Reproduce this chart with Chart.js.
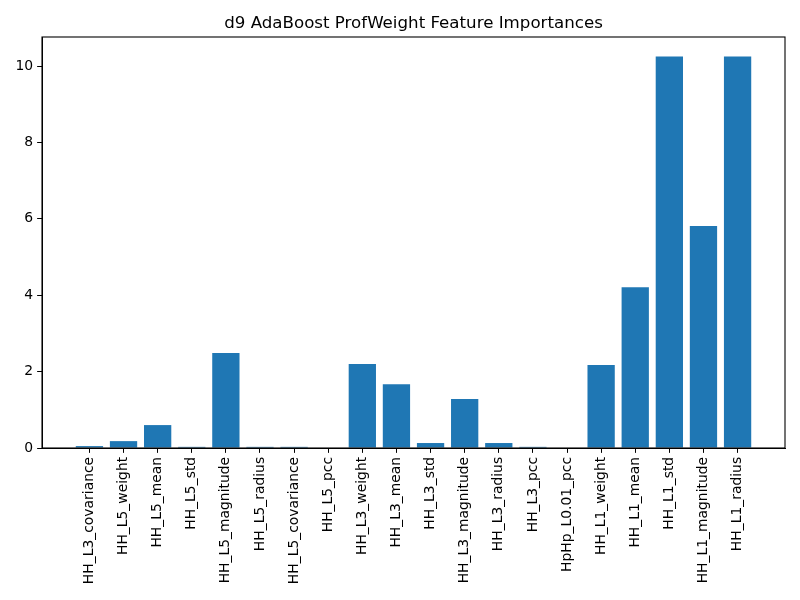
<!DOCTYPE html>
<html>
<head>
<meta charset="utf-8">
<script src="https://cdn.jsdelivr.net/npm/chart.js@4/dist/chart.umd.min.js"></script>
<style>
html,body{margin:0;padding:0;background:#fff;}
#wrap{width:800px;height:600px;}
</style>
</head>
<body>
<div id="wrap"><canvas id="c" width="800" height="600"></canvas></div>
<script>
const titleText = "d9 AdaBoost ProfWeight Feature Importances";
const categories = [
  "HH_L3_covariance","HH_L5_weight","HH_L5_mean","HH_L5_std","HH_L5_magnitude",
  "HH_L5_radius","HH_L5_covariance","HH_L5_pcc","HH_L3_weight","HH_L3_mean",
  "HH_L3_std","HH_L3_magnitude","HH_L3_radius","HH_L3_pcc","HpHp_L0.01_pcc",
  "HH_L1_weight","HH_L1_mean","HH_L1_std","HH_L1_magnitude","HH_L1_radius"
];
const importances = [
  0.05, 0.18, 0.60, 0.03, 2.49,
  0.03, 0.03, 0.0, 2.20, 1.67,
  0.13, 1.28, 0.13, 0.03, 0.0,
  2.17, 4.21, 10.25, 5.81, 10.25
];
const yTicks = [0, 2, 4, 6, 8, 10];

const FONT = "DejaVu Sans";
const tickFont = {family: FONT, size: 13.9};
const TL = 4.86;

const framePlugin = {
  id: 'frame',
  afterDraw(chart) {
    const {ctx, chartArea: a} = chart;
    ctx.save();
    ctx.strokeStyle = '#000';
    ctx.lineWidth = 1.1;
    ctx.strokeRect(a.left, a.top, a.right - a.left, a.bottom - a.top);
    ctx.fillStyle = '#000';
    ctx.font = '16.67px "DejaVu Sans"';
    ctx.textAlign = 'center';
    ctx.textBaseline = 'alphabetic';
    ctx.fillText(titleText, (a.left + a.right) / 2, a.top - 9);
    ctx.restore();
  }
};

new Chart(document.getElementById('c'), {
  type: 'bar',
  data: {
    datasets: [{
      data: importances.map((v, i) => ({x: i, y: v})),
      backgroundColor: '#1f77b4',
      borderWidth: 0,
      barPercentage: 0.8,
      categoryPercentage: 1.0
    }]
  },
  options: {
    responsive: false,
    animation: false,
    devicePixelRatio: 1,
    layout: {padding: {top: 37, right: 15, left: 0, bottom: 0}},
    plugins: {legend: {display: false}, tooltip: {enabled: false}, title: {display: false}},
    scales: {
      x: {
        type: 'linear',
        min: -1.39,
        max: 20.39,
        offset: false,
        afterBuildTicks(axis) { axis.ticks = categories.map((_, i) => ({value: i})); },
        afterFit(axis) { axis.height = 152; },
        ticks: {
          autoSkip: false,
          maxRotation: 90,
          minRotation: 90,
          padding: 4,
          color: '#000',
          font: tickFont,
          callback: (v) => categories[v]
        },
        grid: {offset: false, drawOnChartArea: false, drawTicks: true, tickLength: TL, color: '#000'},
        border: {display: true, color: '#000'}
      },
      y: {
        min: 0,
        max: 10.76,
        afterBuildTicks(axis) { axis.ticks = yTicks.map(v => ({value: v})); },
        afterFit(axis) { axis.width = 42; },
        ticks: {color: '#000', font: tickFont, padding: 4, callback: (v) => String(v)},
        grid: {drawOnChartArea: false, drawTicks: true, tickLength: TL, color: '#000'},
        border: {display: true, color: '#000'}
      }
    }
  },
  plugins: [framePlugin]
});
</script>
</body>
</html>
